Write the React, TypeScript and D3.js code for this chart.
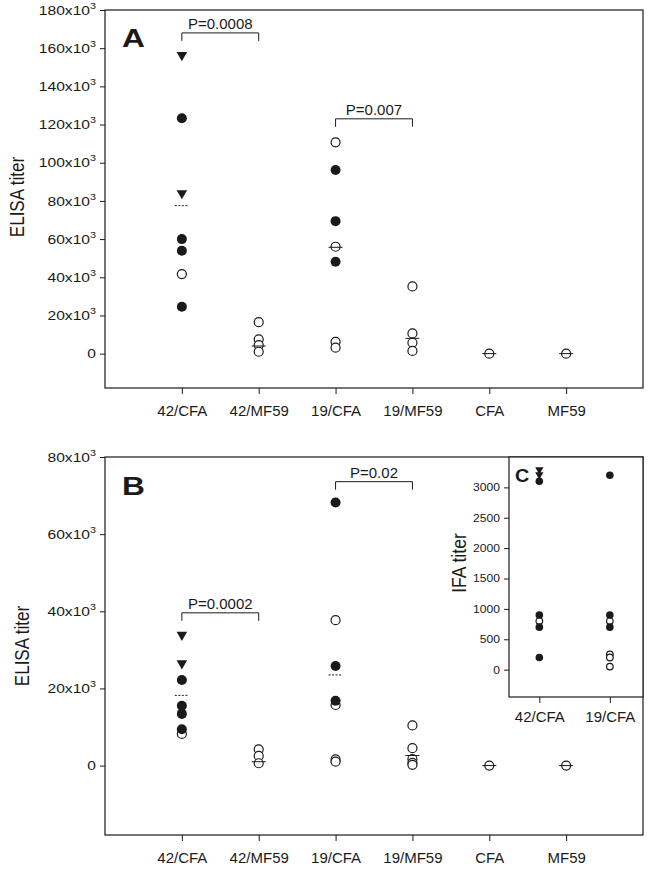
import React, { useEffect, useRef } from "react";
import * as d3 from "d3";

const groups = ["42/CFA", "42/MF59", "19/CFA", "19/MF59", "CFA", "MF59"];
const insetGroups = ["42/CFA", "19/CFA"];

// Panel A - ELISA titer
const aTicks = [0, 20000, 40000, 60000, 80000, 100000, 120000, 140000, 160000, 180000];
const aFilled = [[123300, 60000, 53900, 24600], [], [96200, 69400, 48100], [], [], []];
const aOpen = [[41700], [16500, 7500, 4500, 1000], [110700, 56000, 6200, 3100], [35200, 10600, 5700, 1400], [0], [0]];
const aTriangle = [[156400, 84000], [], [], [], [], []];
const aMedian = [77500, 4000, 55700, 8000, 0, 0];
const aMedianDashed = [true, false, false, false, false, false];
const aPText = ["P=0.0008", "P=0.007"];
const aPPairs = [[0, 1], [2, 3]];
const aPLevel = [168000, 123000];

// Panel B - ELISA titer
const bTicks = [0, 20000, 40000, 60000, 80000];
const bFilled = [[22200, 15500, 13400, 9400], [], [68200, 25800, 16800], [], [], []];
const bOpen = [[8200], [4200, 2500, 600], [37700, 15700, 1600, 1000], [10400, 4500, 1700, 700, 200], [0], [0]];
const bTriangle = [[33900, 26500], [], [], [], [], []];
const bMedian = [18200, 1000, 23500, 2600, 0, 0];
const bMedianDashed = [true, false, true, false, false, false];
const bPText = ["P=0.0002", "P=0.02"];
const bPPairs = [[0, 1], [2, 3]];
const bPLevel = [39600, 73600];

// Panel C - IFA titer (inset)
const cTicks = [0, 500, 1000, 1500, 2000, 2500, 3000];
const cFilled = [[3100, 900, 700, 200], [3200, 900, 700]];
const cOpen = [[800], [800, 250, 200, 50]];
const cTriangle = [[3290, 3210], []];

const FONT = "'Liberation Sans', Arial, Helvetica, sans-serif";
const INK = "#1a1a1a";

function drawPanel(svg: any, cfg: any) {
  const x = d3.scaleLinear().domain(cfg.xDomain).range([cfg.left, cfg.right]);
  const y = d3.scaleLinear().domain(cfg.yDomain).range([cfg.bottom, cfg.top]);
  const g = svg.append("g");

  // frame
  g.append("rect")
    .attr("x", cfg.left)
    .attr("y", cfg.top)
    .attr("width", cfg.right - cfg.left)
    .attr("height", cfg.bottom - cfg.top)
    .attr("fill", "white")
    .attr("stroke", INK)
    .attr("stroke-width", 1.2);

  // y axis ticks
  const yAxis = g.append("g")
    .attr("transform", `translate(${cfg.left},0)`)
    .call(d3.axisLeft(y).tickValues(cfg.ticks).tickSize(5).tickFormat(() => ""));
  yAxis.select(".domain").remove();
  yAxis.selectAll("line").attr("stroke", INK).attr("stroke-width", 1);

  // tick labels look horizontally stretched in the original, so scale them a bit
  cfg.ticks.forEach((t: number) => {
    const txt = g.append("text")
      .attr("transform", `translate(${cfg.left - 9},${y(t)}) scale(${cfg.tickStretch},1)`)
      .attr("dy", "0.36em")
      .attr("text-anchor", "end")
      .attr("font-family", FONT)
      .attr("font-size", cfg.tickFont)
      .attr("fill", INK);
    if (cfg.sup && t !== 0) {
      txt.append("tspan").text(`${t / 1000}x10`);
      txt.append("tspan").attr("font-size", 9).attr("dy", -6).text("3");
    } else {
      txt.text(String(t));
    }
  });

  // x axis
  const xAxis = g.append("g")
    .attr("transform", `translate(0,${cfg.bottom})`)
    .call(
      d3.axisBottom(x)
        .tickValues(cfg.cats.map((_: string, i: number) => i + 1))
        .tickSize(6)
        .tickPadding(cfg.xPad)
        .tickFormat((d: any) => cfg.cats[d - 1]),
    );
  xAxis.select(".domain").remove();
  xAxis.selectAll("line").attr("stroke", INK);
  xAxis.selectAll("text")
    .attr("font-family", FONT)
    .attr("font-size", 15)
    .attr("fill", INK);

  // y title
  g.append("text")
    .attr("transform", `translate(${cfg.titleX},${cfg.titleY}) rotate(-90) scale(${cfg.titleSquash},1)`)
    .attr("text-anchor", "middle")
    .attr("font-family", FONT)
    .attr("font-size", 20)
    .attr("fill", INK)
    .text(cfg.title);

  // panel letter
  g.append("text")
    .attr("transform", `translate(${cfg.letterX},${cfg.letterY}) scale(${cfg.letterStretch},1)`)
    .attr("font-family", FONT)
    .attr("font-weight", "bold")
    .attr("font-size", cfg.letterSize)
    .attr("fill", INK)
    .text(cfg.letter);

  // p-value brackets
  (cfg.pText || []).forEach((label: string, k: number) => {
    const [i1, i2] = cfg.pPairs[k];
    const x1 = x(i1 + 1);
    const x2 = x(i2 + 1);
    const yy = y(cfg.pLevel[k]);
    g.append("path")
      .attr("d", `M${x1},${yy + 8}V${yy}H${x2}V${yy + 8}`)
      .attr("fill", "none")
      .attr("stroke", INK)
      .attr("stroke-width", 1);
    g.append("text")
      .attr("x", (x1 + x2) / 2)
      .attr("y", yy - 4)
      .attr("text-anchor", "middle")
      .attr("font-family", FONT)
      .attr("font-size", 15)
      .attr("fill", INK)
      .text(label);
  });

  const r = cfg.r;
  cfg.cats.forEach((_: string, i: number) => {
    const cx = x(i + 1);
    (cfg.open[i] || []).forEach((v: number) => {
      g.append("circle").attr("cx", cx).attr("cy", y(v)).attr("r", r)
        .attr("fill", "white").attr("stroke", INK).attr("stroke-width", 1.2);
    });
    (cfg.filled[i] || []).forEach((v: number) => {
      g.append("circle").attr("cx", cx).attr("cy", y(v)).attr("r", r + 0.5)
        .attr("fill", INK);
    });
    (cfg.tri[i] || []).forEach((v: number) => {
      g.append("path")
        .attr("d", d3.symbol(d3.symbolTriangle, cfg.triSize)())
        .attr("transform", `translate(${cx},${y(v)}) rotate(180)`)
        .attr("fill", INK);
    });
    if (cfg.median) {
      g.append("line")
        .attr("x1", cx - 7).attr("x2", cx + 7)
        .attr("y1", y(cfg.median[i])).attr("y2", y(cfg.median[i]))
        .attr("stroke", INK)
        .attr("stroke-width", 1)
        .attr("stroke-dasharray", cfg.dashed[i] ? "2,1.5" : null);
    }
  });
}

export default function App() {
  const svgRef = useRef<SVGSVGElement>(null);

  useEffect(() => {
    if (!svgRef.current) return;
    const svg = d3.select(svgRef.current);
    svg.selectAll("*").remove();

    drawPanel(svg, {
      left: 105, right: 643, top: 10, bottom: 388,
      xDomain: [0, 7], yDomain: [-18000, 180000],
      ticks: aTicks, sup: true, tickFont: 13, tickStretch: 1.2, cats: groups, xPad: 11,
      title: "ELISA titer", titleX: 24, titleY: 197, titleSquash: 0.85,
      letter: "A", letterX: 122, letterY: 47, letterSize: 26, letterStretch: 1.22,
      pText: aPText, pPairs: aPPairs, pLevel: aPLevel,
      open: aOpen, filled: aFilled, tri: aTriangle, median: aMedian, dashed: aMedianDashed,
      r: 4.5, triSize: 48,
    });

    drawPanel(svg, {
      left: 105, right: 643, top: 457, bottom: 835,
      xDomain: [0, 7], yDomain: [-18000, 80000],
      ticks: bTicks, sup: true, tickFont: 13, tickStretch: 1.2, cats: groups, xPad: 11,
      title: "ELISA titer", titleX: 29, titleY: 646, titleSquash: 0.85,
      letter: "B", letterX: 122, letterY: 495, letterSize: 26, letterStretch: 1.22,
      pText: bPText, pPairs: bPPairs, pLevel: bPLevel,
      open: bOpen, filled: bFilled, tri: bTriangle, median: bMedian, dashed: bMedianDashed,
      r: 4.5, triSize: 48,
    });

    drawPanel(svg, {
      left: 509, right: 643, top: 457, bottom: 697,
      xDomain: [0.57, 2.47], yDomain: [-450, 3500],
      ticks: cTicks, sup: false, tickFont: 11, tickStretch: 1.1, cats: insetGroups, xPad: 8,
      title: "IFA titer", titleX: 466, titleY: 563, titleSquash: 0.88,
      letter: "C", letterX: 515, letterY: 482, letterSize: 18, letterStretch: 1.1,
      open: cOpen, filled: cFilled, tri: cTriangle,
      r: 3.3, triSize: 30,
    });
  }, []);

  return (
    <svg
      ref={svgRef}
      width={651}
      height={869}
      style={{ position: "absolute", left: 0, top: 0, background: "white" }}
    />
  );
}
